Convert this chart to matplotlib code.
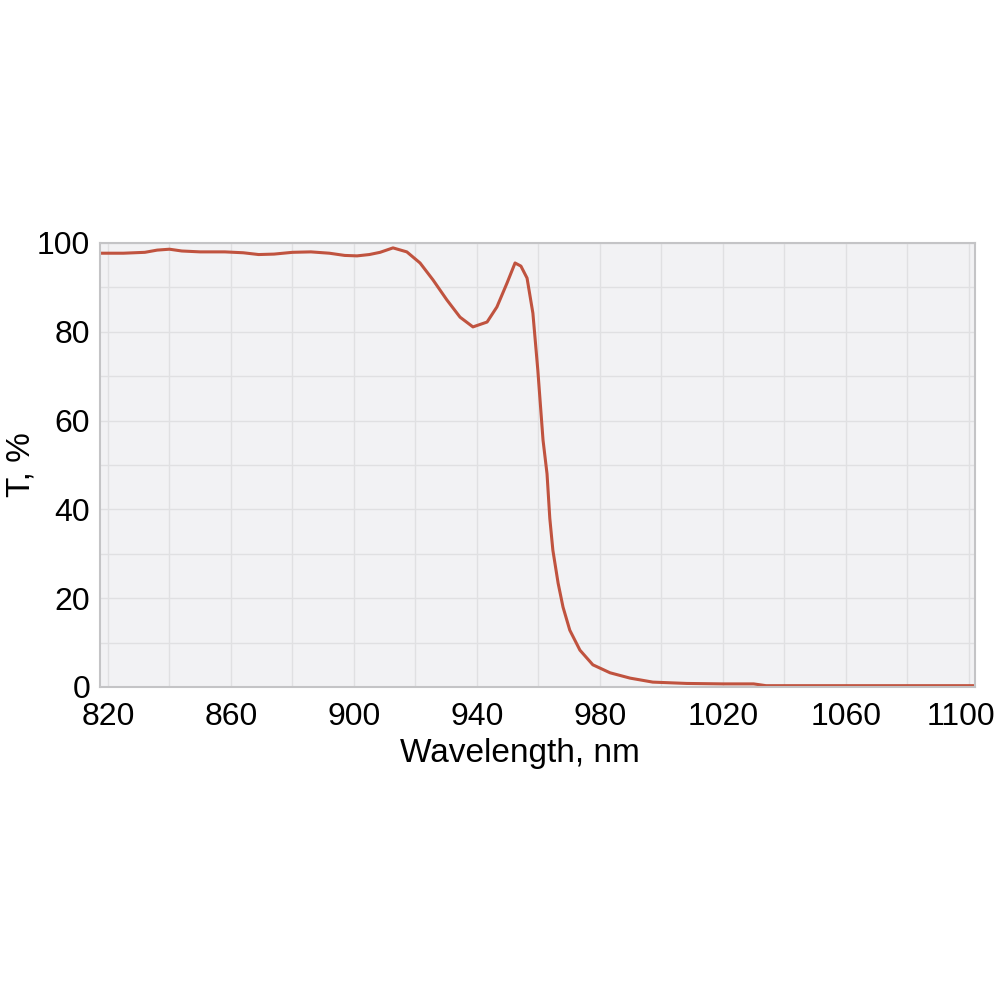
import numpy as np
import matplotlib
matplotlib.use('Agg')
from matplotlib import pyplot as plt
from matplotlib.ticker import FixedLocator
from matplotlib.transforms import ScaledTranslation

plt.rcParams['font.family'] = ['Liberation Sans', 'DejaVu Sans']

# transmission curve
wavelength = [817, 825, 832, 836, 840, 844, 850, 858, 864, 869, 874, 880, 886, 892,
              897, 901, 905, 908.5, 912.7, 917.2, 921.5, 925.7, 930.2, 934.5, 938.7,
              943.3, 946.5, 949.8, 952.4, 954.3, 956.3, 958.2, 959.8, 961.5, 962.8,
              963.7, 964.7, 966.4, 968.0, 970.2, 973.5, 977.7, 983.3, 989.8, 997.2,
              1008.3, 1020, 1030, 1034, 1050, 1075, 1103]
transmission = [97.7, 97.7, 97.9, 98.4, 98.6, 98.2, 98.0, 98.0, 97.8, 97.4, 97.5, 97.9,
                98.0, 97.7, 97.2, 97.1, 97.4, 97.9, 98.9, 98.0, 95.5, 91.7, 87.2, 83.3,
                81.1, 82.2, 85.6, 91.0, 95.5, 94.8, 92.1, 84.2, 71.4, 55.6, 48.0, 38.0,
                30.8, 23.4, 18.0, 12.8, 8.3, 5.0, 3.2, 2.0, 1.1, 0.8, 0.7, 0.7, 0.3,
                0.3, 0.3, 0.3]

major_x = [820, 860, 900, 940, 980, 1020, 1060, 1100]
minor_x = [840, 880, 920, 960, 1000, 1040, 1080]
major_y = [0, 20, 40, 60, 80, 100]
minor_y = [10, 30, 50, 70, 90]

fig = plt.figure(figsize=(10, 10), dpi=100)
ax = fig.add_axes([0.100, 0.313, 0.875, 0.444])
ax.set_facecolor('#f2f2f4')

ax.plot(wavelength, transmission, color='#c0533f', linewidth=2.2,
        solid_joinstyle='round', solid_capstyle='round')

ax.set_xlim(817.4, 1102)
ax.set_ylim(0, 100)
ax.xaxis.set_major_locator(FixedLocator(major_x))
ax.xaxis.set_minor_locator(FixedLocator(minor_x))
ax.yaxis.set_major_locator(FixedLocator(major_y))
ax.yaxis.set_minor_locator(FixedLocator(minor_y))
ax.grid(True, which='both', color='#e0e0e2', linewidth=1.0)
ax.set_axisbelow(True)
ax.tick_params(which='both', length=0, labelsize=23)
ax.tick_params(axis='x', pad=11)
ax.tick_params(axis='y', pad=7)

# keep the last label inside the figure
fig.canvas.draw()
last = ax.get_xticklabels()[-1]
last.set_transform(last.get_transform() + ScaledTranslation(-8 / 100, 0, fig.dpi_scale_trans))

for s in ax.spines.values():
    s.set_color('#c4c4c6')
    s.set_linewidth(1.5)

ax.set_xlabel('Wavelength, nm', fontsize=24)
ax.set_ylabel('T, %', fontsize=24)
ax.xaxis.set_label_coords(0.48, -0.115)
ax.yaxis.set_label_coords(-0.072, 0.5)

plt.savefig('out.png', dpi=100, facecolor='w')
